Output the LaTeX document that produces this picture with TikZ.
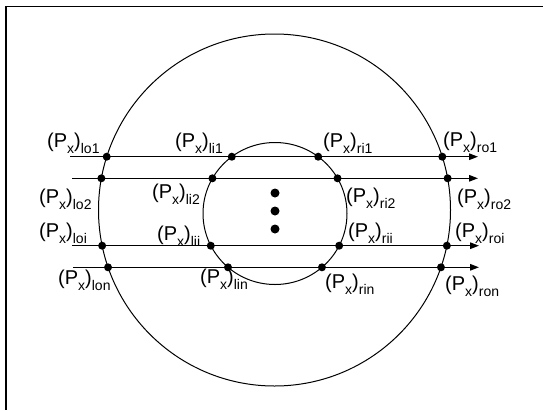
\documentclass[tikz,border=0pt]{standalone}
\usepackage{fontspec}
\setmainfont{Liberation Sans}
\usetikzlibrary{intersections,arrows.meta}
\newcommand{\PXlab}[1]{(P\raisebox{-6.5pt}{\fontsize{14}{14}\selectfont x})\raisebox{-6.5pt}{\fontsize{14}{14}\selectfont #1}}
\begin{document}
\begin{tikzpicture}[x=1pt,y=-1pt,
  lab/.style={anchor=base west,inner sep=0pt,font=\fontsize{20}{20}\selectfont},
  dot/.style={circle,fill=black,inner sep=0pt,minimum size=8pt},
  bigdot/.style={circle,fill=black,inner sep=0pt,minimum size=9pt},
  ray/.style={line width=1.3pt,-{Triangle[length=9pt,width=6.5pt]}},
  ring/.style={line width=1pt},
  frame/.style={line width=1.6pt}]
\useasboundingbox (0,0) rectangle (543,410);
% open frame
\draw[frame] (543,6.5) -- (6,6.5) -- (6,410);
% circles
\coordinate (co) at (274.5,210);
\coordinate (ci) at (275,213.5);
\draw[ring,name path=outer] (co) circle[radius=176pt];
\draw[ring,name path=inner] (ci) ellipse[x radius=72pt,y radius=71pt];
% ray end points
\coordinate (s1) at (70,156.7);  \coordinate (e1) at (478,156.7);
\coordinate (s2) at (72,178.3);  \coordinate (e2) at (478,178.3);
\coordinate (s3) at (72,245.7);  \coordinate (e3) at (479,245.7);
\coordinate (s4) at (73,267.3);  \coordinate (e4) at (479,267.3);
\draw[ray,name path=L1] (s1) -- (e1);
\draw[ray,name path=L2] (s2) -- (e2);
\draw[ray,name path=L3] (s3) -- (e3);
\draw[ray,name path=L4] (s4) -- (e4);
% intersection dots
\path[name intersections={of=outer and L1,sort by=L1}]
  (intersection-1) node[dot] (lo1) {} (intersection-2) node[dot] (ro1) {};
\path[name intersections={of=outer and L2,sort by=L2}]
  (intersection-1) node[dot] (lo2) {} (intersection-2) node[dot] (ro2) {};
\path[name intersections={of=outer and L3,sort by=L3}]
  (intersection-1) node[dot] (loi) {} (intersection-2) node[dot] (roi) {};
\path[name intersections={of=outer and L4,sort by=L4}]
  (intersection-1) node[dot] (lon) {} (intersection-2) node[dot] (ron) {};
\path[name intersections={of=inner and L1,sort by=L1}]
  (intersection-1) node[dot] (li1) {} (intersection-2) node[dot] (ri1) {};
\path[name intersections={of=inner and L2,sort by=L2}]
  (intersection-1) node[dot] (li2) {} (intersection-2) node[dot] (ri2) {};
\path[name intersections={of=inner and L3,sort by=L3}]
  (intersection-1) node[dot] (lii) {} (intersection-2) node[dot] (rii) {};
\path[name intersections={of=inner and L4,sort by=L4}]
  (intersection-1) node[dot] (lin) {} (intersection-2) node[dot] (rin) {};
% vertical ellipsis dots
\node[bigdot] (v1) at (275,193) {};
\node[bigdot] (v2) at (275,211) {};
\node[bigdot] (v3) at (275,229) {};
% labels
\node[lab] (tlo1) at (47,147) {\PXlab{lo1}};
\node[lab] (tli1) at (175,147) {\PXlab{li1}};
\node[lab] (tri1) at (323,147) {\PXlab{ri1}};
\node[lab] (tro1) at (443,146) {\PXlab{ro1}};
\node[lab] (tlo2) at (39,203) {\PXlab{lo2}};
\node[lab] (tli2) at (152,198) {\PXlab{li2}};
\node[lab] (tri2) at (346,202) {\PXlab{ri2}};
\node[lab] (tro2) at (457,203) {\PXlab{ro2}};
\node[lab] (tloi) at (39,237) {\PXlab{loi}};
\node[lab] (tlii) at (157,240) {\PXlab{lii}};
\node[lab] (trii) at (348,237) {\PXlab{rii}};
\node[lab] (troi) at (455,237) {\PXlab{roi}};
\node[lab] (tlon) at (58,284) {\PXlab{lon}};
\node[lab] (tlin) at (200,283) {\PXlab{lin}};
\node[lab] (trin) at (325,288) {\PXlab{rin}};
\node[lab] (tron) at (445,290) {\PXlab{ron}};
\end{tikzpicture}
\end{document}
